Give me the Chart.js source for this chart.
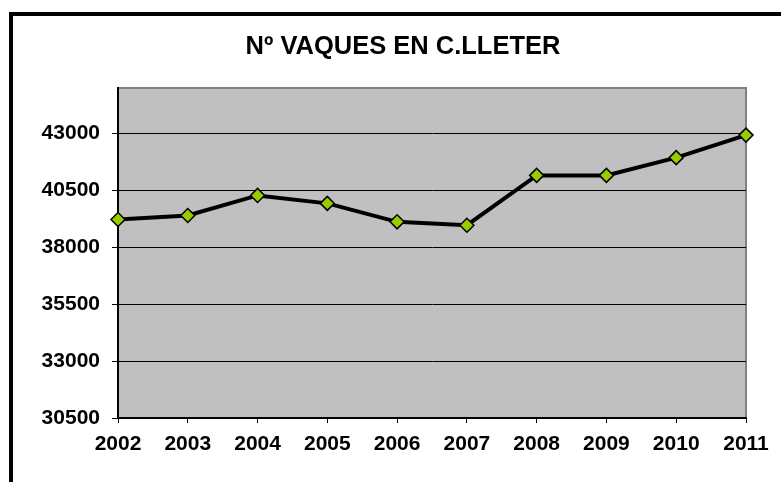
<!DOCTYPE html>
<html>
<head>
<meta charset="utf-8">
<script src="https://cdn.jsdelivr.net/npm/chart.js@4/dist/chart.umd.min.js"></script>
<style>
    html, body { margin: 0; padding: 0; background: #FFFFFF; overflow: hidden; }
    #frame {
        position: absolute;
        left: 9px;
        top: 12px;
        width: 800px;
        height: 490px;
        border: 4px solid #000000;
        box-sizing: border-box;
    }
    #wrap { position: absolute; left: 0; top: 0; width: 781px; height: 482px; }
</style>
</head>
<body>
<div id="frame"></div>
<div id="wrap"><canvas id="vaquesChart" width="781" height="482"></canvas></div>
<script>
const chartTitle = 'Nº VAQUES EN C.LLETER';
const years = ['2002', '2003', '2004', '2005', '2006', '2007', '2008', '2009', '2010', '2011'];
const vaques = [39220, 39400, 40280, 39930, 39120, 38970, 41160, 41160, 41940, 42930];
const yTicks = [30500, 33000, 35500, 38000, 40500, 43000];
const yMin = 30500;
const yMax = 45000;

const FONT = '"Liberation Sans", Arial, sans-serif';

// Excel-style plot area: grey fill, grey top/right edge, title above
const excelLook = {
    id: 'excelLook',
    beforeDraw(chart) {
        const { ctx, chartArea: a } = chart;
        ctx.save();
        ctx.fillStyle = '#C0C0C0';
        ctx.fillRect(a.left, a.top, a.right - a.left, a.bottom - a.top);
        ctx.strokeStyle = '#808080';
        ctx.lineWidth = 2;
        ctx.beginPath();
        ctx.moveTo(a.left, a.top);
        ctx.lineTo(a.right, a.top);
        ctx.lineTo(a.right, a.bottom);
        ctx.stroke();
        ctx.restore();
    },
    afterDraw(chart) {
        const { ctx } = chart;
        ctx.save();
        ctx.fillStyle = '#000000';
        ctx.font = 'bold 25.5px ' + FONT;
        ctx.textAlign = 'center';
        ctx.textBaseline = 'middle';
        ctx.fillText(chartTitle, 403, 47);
        ctx.restore();
    }
};

new Chart(document.getElementById('vaquesChart').getContext('2d'), {
    type: 'line',
    data: {
        labels: years,
        datasets: [{
            data: vaques,
            borderColor: '#000000',
            borderWidth: 4,
            tension: 0,
            fill: false,
            clip: false,
            pointStyle: 'rectRot',
            pointRadius: 7,
            pointHoverRadius: 7,
            pointBackgroundColor: '#99CC00',
            pointBorderColor: '#000000',
            pointBorderWidth: 1.5
        }]
    },
    options: {
        responsive: false,
        animation: false,
        events: [],
        layout: {
            padding: { left: 0, top: 88, right: 35, bottom: 0 }
        },
        plugins: {
            legend: { display: false },
            title: { display: false },
            tooltip: { enabled: false }
        },
        scales: {
            x: {
                offset: false,
                afterFit: (scale) => { scale.height = 64; },
                grid: {
                    drawOnChartArea: false,
                    drawTicks: true,
                    tickLength: 5,
                    color: '#000000',
                    lineWidth: 1
                },
                border: { display: true, color: '#000000', width: 2 },
                ticks: {
                    color: '#000000',
                    font: { family: FONT, size: 21, weight: 'bold' },
                    padding: 9,
                    maxRotation: 0,
                    autoSkip: false
                }
            },
            y: {
                min: yMin,
                max: yMax,
                afterFit: (scale) => { scale.width = 118; },
                afterBuildTicks: (scale) => {
                    scale.ticks = yTicks.map(v => ({ value: v }));
                },
                grid: {
                    color: '#000000',
                    lineWidth: 1,
                    drawTicks: true,
                    tickLength: 6
                },
                border: { display: true, color: '#000000', width: 2 },
                ticks: {
                    color: '#000000',
                    font: { family: FONT, size: 21, weight: 'bold' },
                    padding: 12,
                    callback: (value) => String(value)
                }
            }
        }
    },
    plugins: [excelLook]
});
</script>
</body>
</html>
